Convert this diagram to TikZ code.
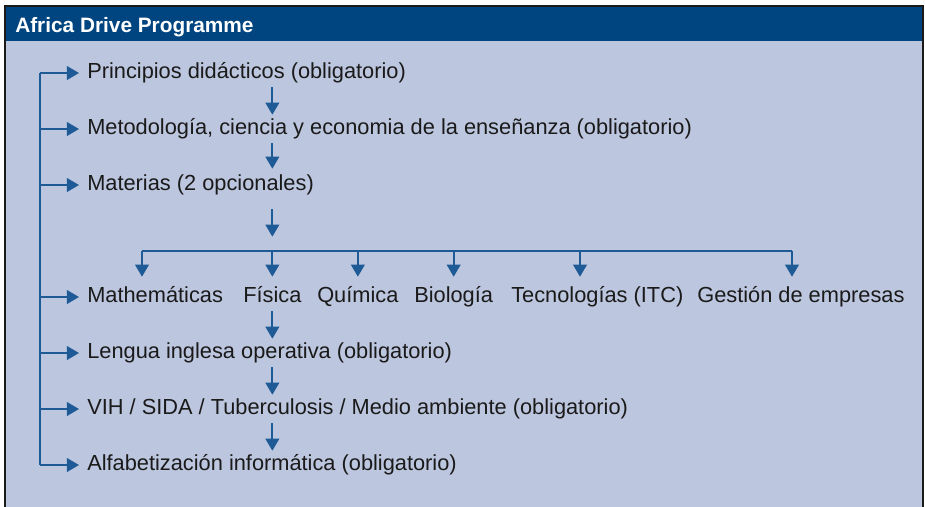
\documentclass[tikz,border=0pt]{standalone}
\usepackage{fontspec}
\setmainfont{Liberation Sans}
\usetikzlibrary{arrows.meta}
\usetikzlibrary{positioning}
\definecolor{headblue}{HTML}{00457F}
\definecolor{bodyblue}{HTML}{BCC6DE}
\definecolor{linkblue}{HTML}{1E5A96}
\definecolor{inkgrey}{HTML}{1A1A1A}

\begin{document}
\begin{tikzpicture}[x=0.025cm, y=-0.025cm,
  item/.style={anchor=west, inner xsep=0.2cm, inner ysep=0pt, text height=0.39cm, text depth=0.12cm,
    minimum height=0.7cm, font=\fontsize{15.5}{16}\selectfont, text=inkgrey},
  subj/.style={item, inner xsep=0pt},
  link/.style={draw=linkblue, line width=1.3pt},
  arr/.style={link, -{Triangle[length=0.3cm, width=0.34cm]}}]
  \useasboundingbox (0,0) rectangle (925,506);
  % frame and title band
  \fill[bodyblue] (5,6) rectangle (923,512);
  \fill[headblue] (5,6) rectangle (923,41);
  \draw[inkgrey, line width=0.8pt] (5,512) -- (5,6) -- (923,6) -- (923,512);
  \node[anchor=west, inner sep=0pt, text=white, font=\fontsize{14.8}{15}\selectfont\bfseries] (title) at (15,27) {Africa Drive Programme};

  % main steps
  \node[item] (p1) at (79,73)  {Principios didácticos (obligatorio)};
  \node[item] (p2) at (79,129) {Metodología, ciencia y economia de la enseñanza (obligatorio)};
  \node[item] (p3) at (79,185) {Materias (2 opcionales)};
  \node[item] (mat) at (79,297) {Mathemáticas};
  \node[subj] (fis) at (243,297) {Física};
  \node[subj] (qui) at (317,297) {Química};
  \node[subj] (bio) at (414,297) {Biología};
  \node[subj] (tec) at (511,297) {Tecnologías (ITC)};
  \node[subj] (ges) at (697,297) {Gestión de empresas};
  \node[item] (p5) at (79,353) {Lengua inglesa operativa (obligatorio)};
  \node[item] (p6) at (79,409) {VIH / SIDA / Tuberculosis / Medio ambiente (obligatorio)};
  \node[item] (p7) at (79,465) {Alfabetización informática (obligatorio)};

  % left spine
  \coordinate (top) at (40,73);
  \coordinate (bot) at (40,465);
  \draw[link] (top) -- (bot);
  \foreach \n in {p1,p2,p3,mat,p5,p6,p7}
    \draw[arr] (\n.west -| top) -- (\n.west);

  % chain down the middle
  \draw[arr] (p1.south -| fis) -- (p2.north -| fis);
  \draw[arr] (p2.south -| fis) -- ([yshift=0.05cm]p3.north -| fis);
  \path (fis.north) ++(0,-32) coordinate (bus);
  \path (p3.south -| fis) ++(0,10) coordinate (mdown);
  \draw[arr] (mdown) -- ([yshift=0.35cm]bus);
  % drop points on the bus
  \path (mat.west) ++(63,0) coordinate (matx);
  \path (tec.west) ++(69,0) coordinate (tecx);
  \path (ges.west) ++(95,0) coordinate (gesx);
  \draw[link] (bus -| matx) -- (bus -| gesx);
  \foreach \c in {matx,tecx,gesx}
    \draw[arr] (bus -| \c) -- ([yshift=0.15cm]\c |- mat.north);
  \foreach \n in {fis,qui,bio}
    \draw[arr] (bus -| \n) -- ([yshift=0.15cm]\n.north);
  \draw[arr] (fis.south) -- (p5.north -| fis);
  \draw[arr] (p5.south -| fis) -- (p6.north -| fis);
  \draw[arr] (p6.south -| fis) -- (p7.north -| fis);
\end{tikzpicture}
\end{document}
